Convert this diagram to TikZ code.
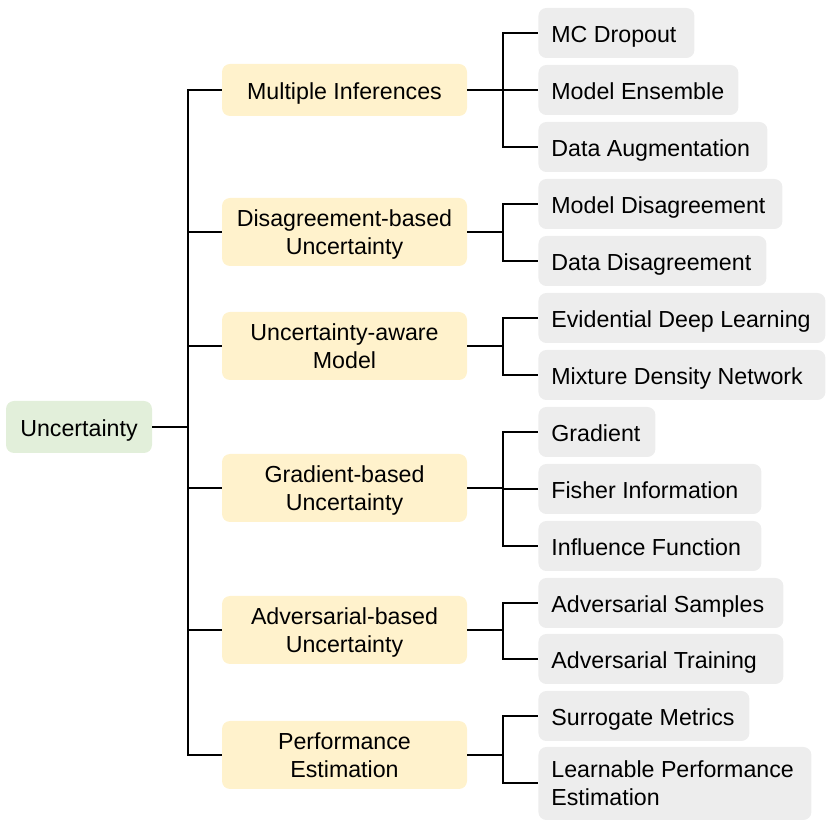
\documentclass[tikz,border=0pt]{standalone}
\usepackage{fontspec}
\setmainfont{Liberation Sans}
\usetikzlibrary{positioning}
\definecolor{rootgreen}{HTML}{E2EFDA}
\definecolor{midyellow}{HTML}{FFF2CC}
\definecolor{leafgrey}{HTML}{EDEDED}
\newcommand{\leaftext}[2]{\makebox[#1][l]{#2}}
\tikzset{
	box/.style={rounded corners=4pt,inner sep=0pt,font=\fontsize{11.6}{14}\selectfont,text depth=0pt},
	oneline/.style={text height=9.4pt},
	twolines/.style={text depth=-1.5pt},
	rootbox/.style={box,oneline,fill=rootgreen,minimum width=73pt,minimum height=26pt},
	midbox/.style={box,fill=midyellow,minimum width=122.5pt,minimum height=34pt,align=center},
	leafbox/.style={box,fill=leafgrey,anchor=west,minimum height=25pt,inner xsep=6.5pt,align=left},
	link/.style={line width=1pt}
}

\begin{document}
\begin{tikzpicture}[x=0.5pt,y=-0.5pt]
		\useasboundingbox (0,0) rectangle (831,828);
		% root and second level
		\node[rootbox](U) at (79,427){Uncertainty};
		\node[midbox,oneline,minimum height=26pt](M1) at (344.5,90){Multiple Inferences};
		\node[midbox,twolines](M2) at (344.5,232){Disagreement-based\\Uncertainty};
		\node[midbox,twolines](M3) at (344.5,346){Uncertainty-aware\\Model};
		\node[midbox,twolines](M4) at (344.5,488){Gradient-based\\Uncertainty};
		\node[midbox,twolines](M5) at (344.5,630){Adversarial-based\\Uncertainty};
		\node[midbox,twolines](M6) at (344.5,755){Performance\\Estimation};
		% leaves
		\node[leafbox,oneline](L1) at (538,33){\leaftext{65pt}{MC Dropout}};
		\node[leafbox,oneline](L2) at (538,90){\leaftext{87pt}{Model Ensemble}};
		\node[leafbox,oneline](L3) at (538,147){\leaftext{101.5pt}{Data Augmentation}};
		\node[leafbox,oneline](L4) at (538,204){\leaftext{109pt}{Model Disagreement}};
		\node[leafbox,oneline](L5) at (538,261){\leaftext{101pt}{Data Disagreement}};
		\node[leafbox,oneline](L6) at (538,318){\leaftext{130.5pt}{Evidential Deep Learning}};
		\node[leafbox,oneline](L7) at (538,375){\leaftext{130.5pt}{Mixture Density Network}};
		\node[leafbox,oneline](L8) at (538,432){\leaftext{45.5pt}{Gradient}};
		\node[leafbox,oneline](L9) at (538,489){\leaftext{98.5pt}{Fisher Information}};
		\node[leafbox,oneline](L10) at (538,546){\leaftext{98.5pt}{Influence Function}};
		\node[leafbox,oneline](L11) at (538,603){\leaftext{109.5pt}{Adversarial Samples}};
		\node[leafbox,oneline](L12) at (538,659){\leaftext{109.5pt}{Adversarial Training}};
		\node[leafbox,oneline](L13) at (538,716){\leaftext{92.5pt}{Surrogate Metrics}};
		\node[leafbox,text depth=-2pt,minimum height=36.5pt](L14) at (538,783.5){\leaftext{123.5pt}{Learnable Performance}\\Estimation};
		% links
		\draw[link] (U.east) -- ++(36,0) |- (M1.west);
		\draw[link] (U.east) -- ++(36,0) |- (M2.west);
		\draw[link] (U.east) -- ++(36,0) |- (M3.west);
		\draw[link] (U.east) -- ++(36,0) |- (M4.west);
		\draw[link] (U.east) -- ++(36,0) |- (M5.west);
		\draw[link] (U.east) -- ++(36,0) |- (M6.west);
		\draw[link] (M1.east) -- ++(36,0) |- (L1.west);
		\draw[link] (M1.east) -- ++(36,0) |- (L2.west);
		\draw[link] (M1.east) -- ++(36,0) |- (L3.west);
		\draw[link] (M2.east) -- ++(36,0) |- (L4.west);
		\draw[link] (M2.east) -- ++(36,0) |- (L5.west);
		\draw[link] (M3.east) -- ++(36,0) |- (L6.west);
		\draw[link] (M3.east) -- ++(36,0) |- (L7.west);
		\draw[link] (M4.east) -- ++(36,0) |- (L8.west);
		\draw[link] (M4.east) -- ++(36,0) |- (L9.west);
		\draw[link] (M4.east) -- ++(36,0) |- (L10.west);
		\draw[link] (M5.east) -- ++(36,0) |- (L11.west);
		\draw[link] (M5.east) -- ++(36,0) |- (L12.west);
		\draw[link] (M6.east) -- ++(36,0) |- (L13.west);
		\draw[link] (M6.east) -- ++(36,0) |- (L14.west);
	\end{tikzpicture}
\end{document}
